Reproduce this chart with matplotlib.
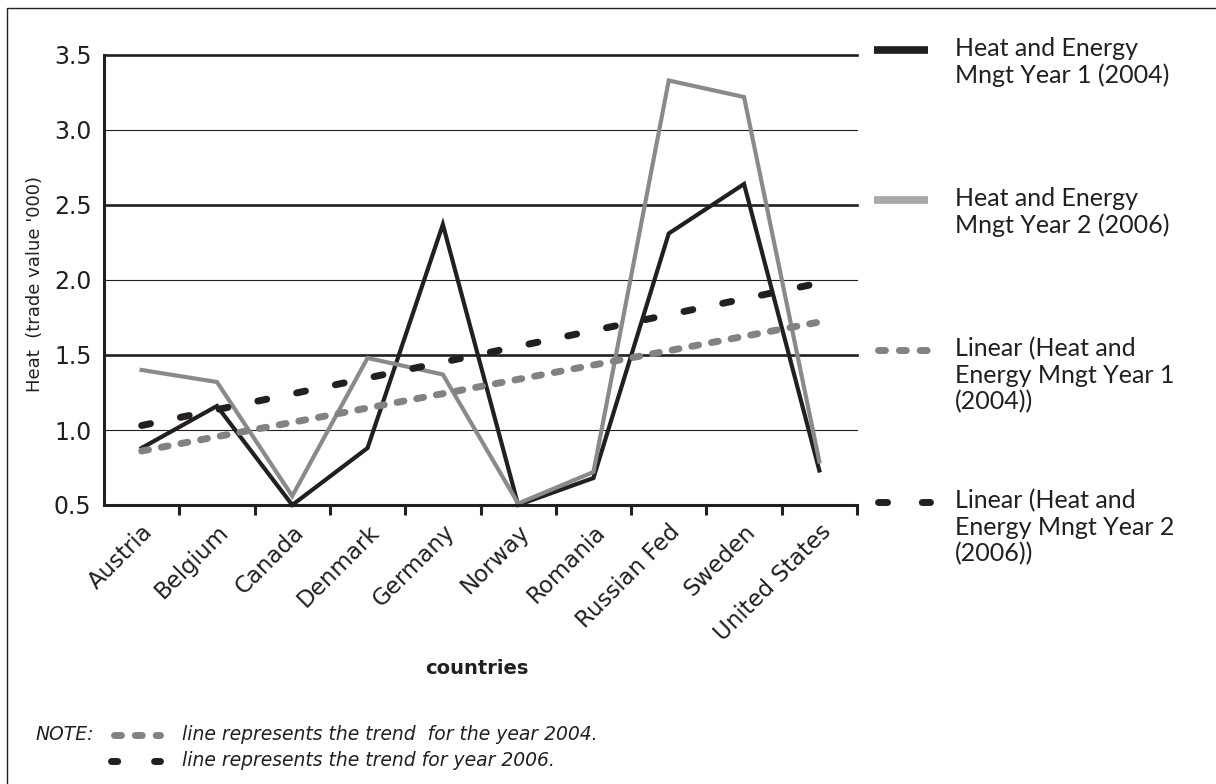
import matplotlib
matplotlib.use("Agg")
import matplotlib.pyplot as plt
from matplotlib.lines import Line2D
from matplotlib.patches import Rectangle

countries = ["Austria", "Belgium", "Canada", "Denmark", "Germany",
             "Norway", "Romania", "Russian Fed", "Sweden", "United States"]
year1_2004 = [0.88, 1.16, 0.50, 0.88, 2.37, 0.50, 0.68, 2.31, 2.64, 0.73]
year2_2006 = [1.40, 1.32, 0.56, 1.48, 1.37, 0.51, 0.72, 3.33, 3.22, 0.79]
# linear trend values at first and last country
trend_2004 = [0.86, 1.72]
trend_2006 = [1.03, 1.98]
y_ticks = [0.5, 1.0, 1.5, 2.0, 2.5, 3.0, 3.5]

legend_labels = [
    "Heat and Energy\nMngt Year 1 (2004)",
    "Heat and Energy\nMngt Year 2 (2006)",
    "Linear (Heat and\nEnergy Mngt Year 1\n(2004))",
    "Linear (Heat and\nEnergy Mngt Year 2\n(2006))",
]
note_lines = ["line represents the trend  for the year 2004.",
              "line represents the trend for year 2006."]

W, H = 1216, 784
BLACK = "#231f20"
GREY = "#8a8a8a"
GREY_LIGHT = "#a7a9ac"
GREY_TREND = "#808285"

plt.rcParams["lines.scale_dashes"] = False
plt.rcParams["font.family"] = "DejaVu Sans"

fig = plt.figure(figsize=(W / 100, H / 100), dpi=100)
ax = fig.add_axes([104 / W, 1 - 505 / H, (857 - 104) / W, 450 / H])

x = list(range(len(countries)))

# gridlines, alternating thick / thin like the original print
for yv in y_ticks[1:]:
    thick = round(yv * 2) % 2 == 1
    ax.axhline(yv, color=BLACK, lw=1.9 if thick else 0.8, zorder=1, clip_on=False)

ax.plot(x, year1_2004, color=BLACK, lw=3, solid_joinstyle="miter", clip_on=False, zorder=3)
ax.plot(x, year2_2006, color=GREY, lw=3, solid_joinstyle="miter", clip_on=False, zorder=3)
ax.plot([x[0], x[-1]], trend_2004, color=GREY_TREND, lw=5, dashes=(5, 9.4),
        dash_capstyle="round", zorder=4)
ax.plot([x[0], x[-1]], trend_2006, color=BLACK, lw=5, dashes=(6.5, 22),
        dash_capstyle="round", zorder=4)

ax.set_xlim(-0.5, len(countries) - 0.5)
ax.set_ylim(y_ticks[0], y_ticks[-1])
for s in ["top", "right"]:
    ax.spines[s].set_visible(False)
for s in ["left", "bottom"]:
    ax.spines[s].set_linewidth(2.2)
    ax.spines[s].set_color(BLACK)
    ax.spines[s].set_zorder(5)

ax.set_yticks(y_ticks)
ax.set_yticklabels([f"{v:.1f}" for v in y_ticks])
ax.tick_params(axis="y", length=0, pad=9, labelsize=17, labelcolor=BLACK)

ax.set_xticks(x)
ax.set_xticklabels(countries, rotation=45, ha="right", rotation_mode="anchor")
ax.set_xticks([i + 0.5 for i in x], minor=True)
ax.tick_params(axis="x", which="major", length=0, pad=11, labelsize=16.5, labelcolor=BLACK)
ax.tick_params(axis="x", which="minor", length=7, width=2.2, color=BLACK, direction="out")

ax.set_ylabel("Heat  (trade value '000)", fontsize=13, color=BLACK)
ax.yaxis.set_label_coords((35 - 104) / 753, 0.49)
ax.yaxis.label.set_va("center")
ax.set_xlabel("countries", fontsize=14, fontweight="bold", color=BLACK)
ax.xaxis.set_label_coords((477 - 104) / 753, (505 - 668) / 450)
ax.xaxis.label.set_va("center")

# legend on the right, one entry per gridline band
handle_y = [50, 200, 350, 502]
handle_styles = [
    dict(color=BLACK, lw=5.5, solid_capstyle="butt", xs=(874, 928)),
    dict(color=GREY_LIGHT, lw=5.5, solid_capstyle="butt", xs=(874, 928)),
    dict(color=GREY_TREND, lw=5, dashes=(5, 10), dash_capstyle="round", xs=(877.5, 926.5)),
    dict(color=BLACK, lw=5, dashes=(6.5, 25), dash_capstyle="round", xs=(877.5, 930)),
]
for hy, st, lab in zip(handle_y, handle_styles, legend_labels):
    st = dict(st)
    xs = st.pop("xs")
    fig.add_artist(Line2D([xs[0] / W, xs[1] / W], [1 - hy / H, 1 - hy / H],
                          transform=fig.transFigure, **st))
    fig.text(955 / W, 1 - (hy - 13) / H, lab, ha="left", va="top", fontsize=18,
             family="Lato", color=BLACK, linespacing=1.18)

# note under the chart
note_y = [735, 761]
fig.text(36 / W, 1 - note_y[0] / H, "NOTE:", style="italic", fontsize=13.5,
         va="center", color=BLACK)
fig.add_artist(Line2D([113.5 / W, 159.5 / W], [1 - note_y[0] / H] * 2, transform=fig.transFigure,
                      color=GREY_TREND, lw=5, dashes=(5, 10), dash_capstyle="round"))
fig.add_artist(Line2D([110.5 / W, 159.5 / W], [1 - note_y[1] / H] * 2, transform=fig.transFigure,
                      color=BLACK, lw=5, dashes=(4.5, 26.5), dash_capstyle="round"))
for ny, txt in zip(note_y, note_lines):
    fig.text(182 / W, 1 - ny / H, txt, style="italic", fontsize=13.5, va="center", color=BLACK)

# outer frame (right and bottom edges cropped off in the original)
fig.add_artist(Rectangle((7 / W, -1), 2, 1 - 8 / H + 1, transform=fig.transFigure,
                         fill=False, lw=1.0, edgecolor=BLACK))

fig.savefig("out.png", dpi=100)
